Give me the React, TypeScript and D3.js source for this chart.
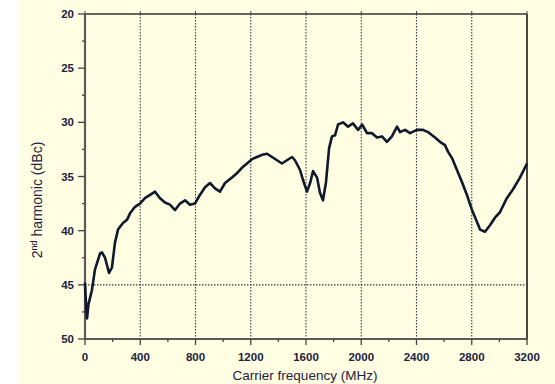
import React from "react";
import * as d3 from "d3";

const freqMHz = [0, 10, 15, 25, 50, 72, 109, 123, 145, 174, 195, 217, 239, 275, 304, 326, 362, 398, 434, 471, 507, 543, 579, 615, 652, 688, 724, 760, 796, 832, 869, 905, 941, 977, 1014, 1064, 1100, 1136, 1173, 1209, 1245, 1282, 1318, 1354, 1390, 1426, 1462, 1499, 1520, 1557, 1578, 1607, 1630, 1651, 1680, 1701, 1723, 1745, 1767, 1788, 1810, 1832, 1868, 1904, 1940, 1977, 2006, 2042, 2078, 2114, 2150, 2186, 2222, 2259, 2281, 2317, 2353, 2403, 2447, 2483, 2534, 2570, 2606, 2628, 2657, 2693, 2729, 2765, 2802, 2838, 2860, 2896, 2932, 2968, 3004, 3054, 3098, 3149, 3200];
const harmonicDbc = [44.8, 47.5, 48.1, 46.8, 45.5, 43.6, 42.1, 42.0, 42.5, 43.9, 43.4, 41.1, 39.9, 39.3, 39.0, 38.4, 37.8, 37.5, 37.0, 36.7, 36.4, 37.0, 37.4, 37.6, 38.1, 37.5, 37.2, 37.6, 37.5, 36.7, 36.0, 35.6, 36.1, 36.4, 35.6, 35.1, 34.7, 34.2, 33.8, 33.4, 33.2, 33.0, 32.9, 33.2, 33.5, 33.8, 33.5, 33.2, 33.5, 34.4, 35.3, 36.4, 35.6, 34.5, 35.1, 36.5, 37.2, 35.5, 32.4, 31.3, 31.2, 30.2, 30.0, 30.4, 30.1, 30.7, 30.2, 31.0, 31.0, 31.4, 31.3, 31.8, 31.3, 30.4, 30.9, 30.7, 31.0, 30.7, 30.7, 30.9, 31.4, 31.8, 32.1, 32.7, 33.3, 34.4, 35.5, 36.7, 38.1, 39.2, 39.9, 40.1, 39.5, 38.8, 38.3, 37.0, 36.2, 35.1, 33.8];

const xTicks = [0, 400, 800, 1200, 1600, 2000, 2400, 2800, 3200];
const xMinorTicks = [200, 600, 1000, 1400, 1800, 2200, 2600, 3000];
const xGrid = [400, 800, 1200, 1600, 2000, 2400, 2800];
const yTicks = [20, 25, 30, 35, 40, 45, 50];
const yMinorTicks = [22.5, 27.5, 32.5, 37.5, 42.5, 47.5];
const yGrid = [45];

const W = 555, H = 384;
const L = 85, R = 527, T = 14, B = 339;
const font = "Liberation Sans, Arial, sans-serif";
const textCol = "#1c2340";

export default function App() {
  const x = d3.scaleLinear().domain([0, 3200]).range([L, R]);
  const y = d3.scaleLinear().domain([20, 50]).range([T, B]);
  const line = d3.line<number>().x((_, i) => x(freqMHz[i])).y((d) => y(d)).curve(d3.curveLinear);
  const path = line(harmonicDbc) || "";
  return (
    <svg width={W} height={H} style={{ position: "absolute", left: 0, top: 0, display: "block" }}>
      <rect x={0} y={0} width={W} height={H} fill="#ffffff" />
      <rect x={20} y={0} width={W - 20} height={H} fill="#fffde2" />
      {xGrid.map((v) => (
        <line key={"gx" + v} x1={x(v)} x2={x(v)} y1={T} y2={B} stroke="#3a3a4a" strokeWidth={1.1} strokeDasharray="1.5,1.5" />
      ))}
      {yGrid.map((v) => (
        <line key={"gy" + v} x1={L} x2={R} y1={y(v)} y2={y(v)} stroke="#3a3a4a" strokeWidth={1.1} strokeDasharray="1.5,1.5" />
      ))}
      <line x1={L} x2={R} y1={T} y2={T} stroke="#333" strokeWidth={1.4} />
      <line x1={R} x2={R} y1={T} y2={B} stroke="#333" strokeWidth={1.8} />
      <line x1={L} x2={L} y1={T} y2={B + 1} stroke="#5a5a5a" strokeWidth={2.2} />
      <line x1={L - 1} x2={R + 1} y1={B} y2={B} stroke="#5a5a5a" strokeWidth={2.2} />
      {xTicks.map((v) => (
        <g key={"xt" + v}>
          <line x1={x(v)} x2={x(v)} y1={B} y2={B + 6} stroke="#444" strokeWidth={1.3} />
          <line x1={x(v)} x2={x(v)} y1={T} y2={T - 3} stroke="#444" strokeWidth={1} />
          <text x={x(v)} y={361} textAnchor="middle" fontFamily={font} fontSize={11.5} fontWeight="bold" fill={textCol}>{v}</text>
        </g>
      ))}
      {xMinorTicks.map((v) => (
        <line key={"xm" + v} x1={x(v)} x2={x(v)} y1={B} y2={B + 3} stroke="#444" strokeWidth={1.3} />
      ))}
      {yTicks.map((v) => (
        <g key={"yt" + v}>
          <line x1={L - 7} x2={L} y1={y(v)} y2={y(v)} stroke="#444" strokeWidth={1.3} />
          <text x={74} y={y(v) + 4} textAnchor="end" fontFamily={font} fontSize={11.5} fontWeight="bold" fill={textCol}>{v}</text>
        </g>
      ))}
      {yMinorTicks.map((v) => (
        <line key={"ym" + v} x1={L - 3} x2={L} y1={y(v)} y2={y(v)} stroke="#444" strokeWidth={1.3} />
      ))}
      <path d={path} fill="none" stroke="#0e1a2c" strokeWidth={2.6} strokeLinejoin="round" />
      <text x={305} y={380} textAnchor="middle" fontFamily={font} fontSize={13.5} fill={textCol}>Carrier frequency (MHz)</text>
      <text transform="translate(42,200) rotate(-90)" textAnchor="middle" fontFamily={font} fontSize={14} fill={textCol}>
        2<tspan dy={-5} fontSize={9}>nd</tspan><tspan dy={5}> harmonic (dBc)</tspan>
      </text>
    </svg>
  );
}
